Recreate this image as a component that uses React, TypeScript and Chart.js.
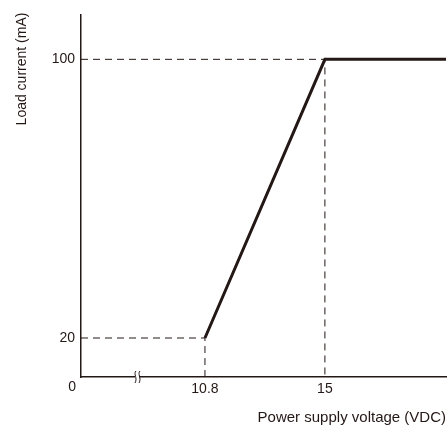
import React, { useEffect, useRef } from "react";
import { Chart, registerables } from "chart.js";

Chart.register(...registerables);

const X_MIN = 6.46;
const X_MAX = 19.24;
const Y_MIN = 8.8;
const Y_MAX = 112.9;

const xTicks = [10.8, 15];
const yTicks = [20, 100];

const curveX = [10.8, 15, X_MAX];
const curveY = [20, 100, 100];

const guide100X = [X_MIN, 15, 15];
const guide100Y = [100, 100, Y_MIN];
const guide20X = [X_MIN, 10.8, 10.8];
const guide20Y = [20, 20, Y_MIN];

const Y_TITLE = "Load current (mA)";
const X_TITLE = "Power supply voltage (VDC)";
const ORIGIN_LABEL = "0";

const INK = "#231815";
const FONT = "Liberation Sans";

const toPts = (xs: number[], ys: number[]) => xs.map((x, i) => ({ x, y: ys[i] }));

const extrasPlugin = {
  id: "extras",
  afterDraw(chart: any) {
    const { ctx, chartArea } = chart;
    const y = chartArea.bottom;
    ctx.save();
    ctx.fillStyle = INK;
    ctx.font = `14px "${FONT}"`;
    ctx.textAlign = "right";
    ctx.textBaseline = "middle";
    ctx.fillText(ORIGIN_LABEL, chartArea.left - 5, y + 10.5);
    // y-axis title
    ctx.save();
    ctx.translate(22, 69);
    ctx.rotate(-Math.PI / 2);
    ctx.textAlign = "center";
    ctx.font = `14px "${FONT}"`;
    ctx.fillText(Y_TITLE, 0, 0);
    ctx.restore();
    // axis break mark
    const bx = chartArea.left + 54;
    ctx.fillStyle = "#fff";
    ctx.fillRect(bx, y - 2, 4, 4);
    ctx.strokeStyle = INK;
    ctx.lineWidth = 1;
    [bx, bx + 4].forEach((cx) => {
      ctx.beginPath();
      ctx.moveTo(cx + 1, y - 6);
      ctx.bezierCurveTo(cx - 2, y - 3, cx + 3, y + 1, cx, y + 6);
      ctx.stroke();
    });
    ctx.restore();
  },
};

export default function App() {
  const ref = useRef<HTMLCanvasElement | null>(null);
  useEffect(() => {
    document.documentElement.style.overflow = "hidden";
    document.body.style.margin = "0";
    const dashed = {
      borderColor: INK,
      borderWidth: 1,
      borderDash: [7, 5],
      pointRadius: 0,
      fill: false,
      tension: 0,
    };
    const chart = new Chart(ref.current!, {
      type: "scatter",
      data: {
        datasets: [
          { ...dashed, data: toPts(guide100X, guide100Y), showLine: true },
          { ...dashed, data: toPts(guide20X, guide20Y), showLine: true },
          {
            data: toPts(curveX, curveY),
            showLine: true,
            borderColor: INK,
            borderWidth: 3,
            pointRadius: 0,
            borderJoinStyle: "miter",
          } as any,
        ],
      },
      plugins: [extrasPlugin],
      options: {
        animation: false,
        responsive: true,
        maintainAspectRatio: false,
        layout: { padding: { top: 14, right: 2, left: 0, bottom: 0 } },
        plugins: { legend: { display: false }, tooltip: { enabled: false } },
        scales: {
          x: {
            type: "linear",
            min: X_MIN,
            max: X_MAX,
            grid: { display: false, drawTicks: false, tickLength: 0 },
            border: { display: true, color: INK, width: 1.5 },
            afterBuildTicks: (s: any) => {
              s.ticks = xTicks.map((v) => ({ value: v }));
            },
            afterFit: (s: any) => {
              s.height = 50;
            },
            ticks: {
              color: INK,
              font: { family: FONT, size: 14 },
              padding: 4,
              maxRotation: 0,
              autoSkip: false,
              callback: (v: any) => String(v),
            },
            title: {
              display: true,
              text: X_TITLE,
              align: "end",
              color: INK,
              font: { family: FONT, size: 15 },
              padding: { top: 4, bottom: 0 },
            },
          },
          y: {
            type: "linear",
            min: Y_MIN,
            max: Y_MAX,
            grid: { display: false, drawTicks: false, tickLength: 0 },
            border: { display: true, color: INK, width: 1.5 },
            afterBuildTicks: (s: any) => {
              s.ticks = yTicks.map((v) => ({ value: v }));
            },
            afterFit: (s: any) => {
              s.width = 81;
            },
            ticks: {
              color: INK,
              font: { family: FONT, size: 14 },
              padding: 6,
              autoSkip: false,
              callback: (v: any) => String(v),
            },
          },
        },
      } as any,
    });
    return () => chart.destroy();
  }, []);
  return (
    <div style={{ position: "fixed", left: 0, top: 0, width: 448, height: 427 }}>
      <canvas ref={ref} />
    </div>
  );
}
